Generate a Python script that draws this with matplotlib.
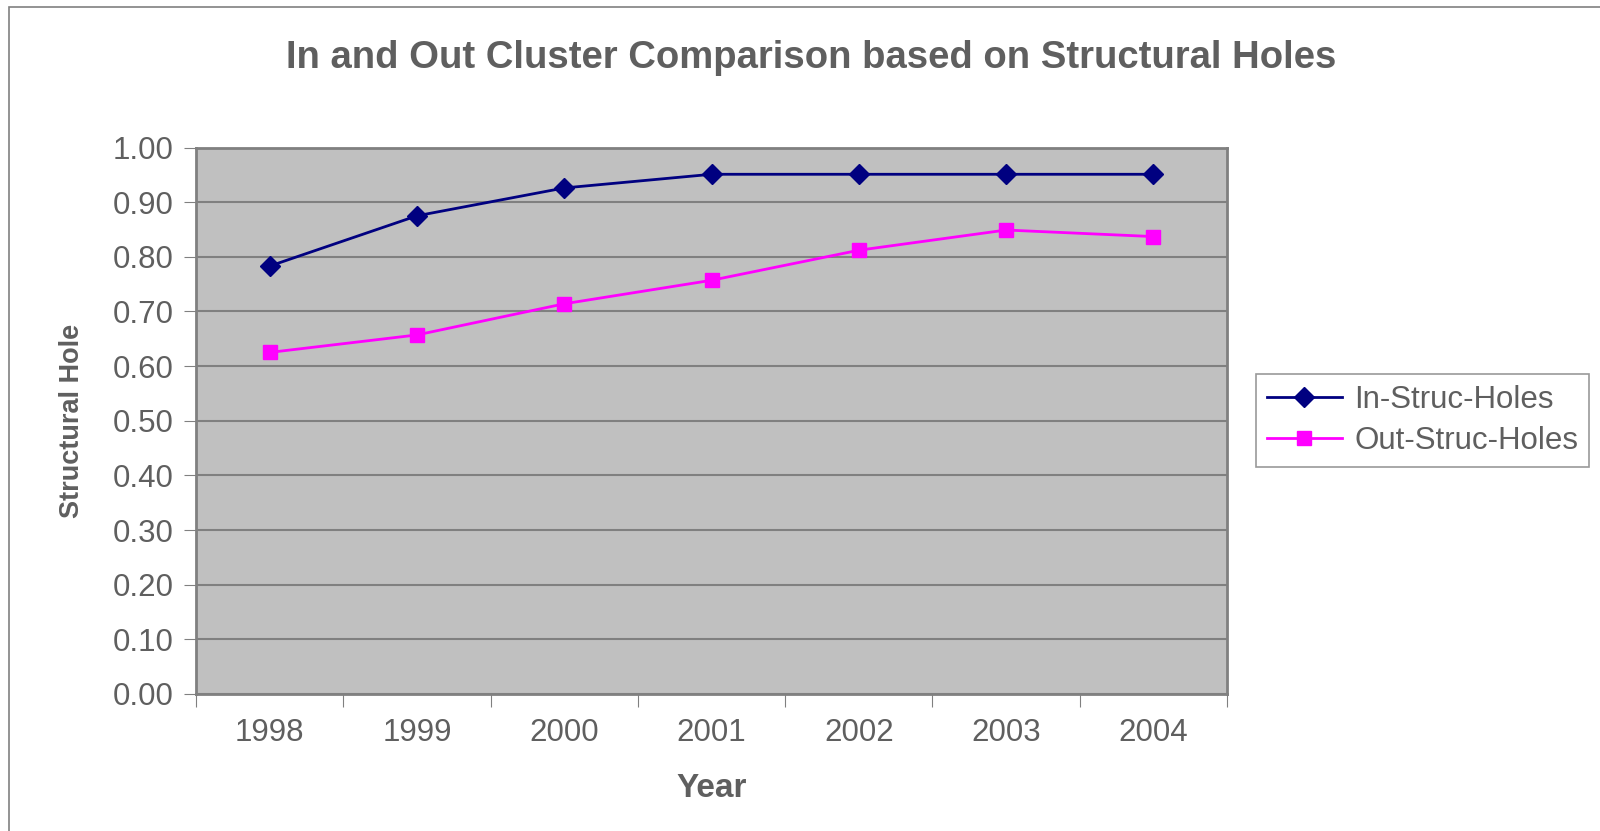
import matplotlib.pyplot as plt
from matplotlib.patches import Rectangle

years = ['1998', '1999', '2000', '2001', '2002', '2003', '2004']
in_struc = [0.783, 0.875, 0.926, 0.951, 0.951, 0.951, 0.951]
out_struc = [0.625, 0.657, 0.714, 0.757, 0.812, 0.849, 0.837]

plt.rcParams['font.family'] = ['Liberation Sans', 'DejaVu Sans']
text_col = '#5f5f5f'

fig = plt.figure(figsize=(16, 8.31), dpi=100)
ax = fig.add_axes([0.1225, 0.1649, 0.6444, 0.6576])

# outer chart frame (only left and top edges visible)
fig.add_artist(Rectangle((9 / 1600, -0.1), 1.2, 1 - 7 / 831 + 0.1,
                         transform=fig.transFigure, fill=False,
                         edgecolor='#808080', linewidth=1.2))

x = list(range(len(years)))
ax.plot(x, in_struc, color='#000080', marker='D', markersize=10,
        linewidth=2, label='In-Struc-Holes')
ax.plot(x, out_struc, color='#FF00FF', marker='s', markersize=9.5,
        linewidth=2, label='Out-Struc-Holes')

ax.set_facecolor('#C0C0C0')
ax.set_xlim(-0.5, len(years) - 0.5)
ax.set_ylim(0, 1.0)
ax.set_yticks([i / 10 for i in range(11)])
ax.set_yticklabels([f'{i / 10:.2f}' for i in range(11)])
ax.yaxis.grid(True, color='#808080', linewidth=1.5)
ax.set_axisbelow(True)

# category boundaries get the tick marks, labels sit in between
ax.set_xticks([i - 0.5 for i in range(len(years) + 1)])
ax.set_xticklabels([])
ax.set_xticks(x, minor=True)
ax.set_xticklabels(years, minor=True)
ax.tick_params(axis='x', which='minor', length=0, pad=17, labelsize=22.5,
               labelcolor=text_col)
ax.tick_params(axis='x', which='major', length=9, color='#808080')
ax.tick_params(axis='y', length=9, color='#808080', pad=7, labelsize=22.5,
               labelcolor=text_col)

for sp in ax.spines.values():
    sp.set_color('#808080')
    sp.set_linewidth(2)

ax.set_xlabel('Year', fontsize=24, fontweight='bold', color=text_col, labelpad=18)
ax.set_ylabel('Structural Hole', fontsize=19.5, fontweight='bold', color=text_col,
              labelpad=20)
fig.text(811 / 1600, 1 - 58 / 831,
         'In and Out Cluster Comparison based on Structural Holes',
         ha='center', va='center', fontsize=27.5, fontweight='bold', color=text_col)

leg = ax.legend(loc='upper left', bbox_to_anchor=(1256 / 1600, 1 - 374 / 831),
                bbox_transform=fig.transFigure, fontsize=22.5, frameon=True,
                fancybox=False, edgecolor='#808080', handlelength=2.4,
                handletextpad=0.4, borderaxespad=0, labelspacing=0.35,
                borderpad=0.35)
leg.get_frame().set_linewidth(1.2)
for t in leg.get_texts():
    t.set_color(text_col)

fig.savefig('out.png', dpi=100)
